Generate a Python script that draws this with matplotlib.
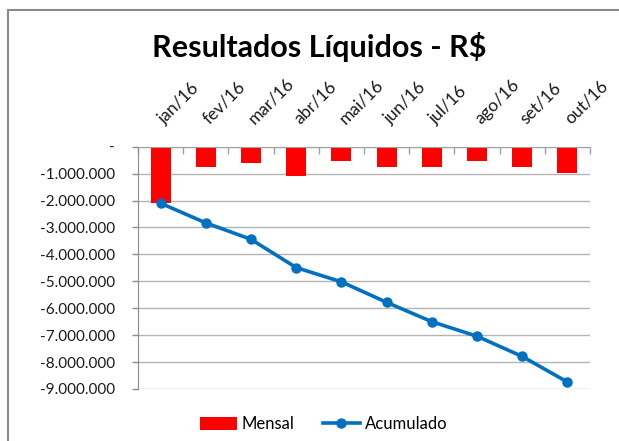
"""Resultados Líquidos - R$: monthly result (bars) and running total (line), Excel style."""

import matplotlib
matplotlib.use("Agg")
import matplotlib.pyplot as plt  # noqa: E402
from matplotlib.patches import Rectangle  # noqa: E402
from matplotlib.ticker import FuncFormatter, FixedLocator  # noqa: E402
from matplotlib.transforms import ScaledTranslation  # noqa: E402
import numpy as np  # noqa: E402

meses = ["jan/16", "fev/16", "mar/16", "abr/16", "mai/16",
         "jun/16", "jul/16", "ago/16", "set/16", "out/16"]
mensal = [-2100000, -760000, -610000, -1080000, -540000,
          -760000, -740000, -540000, -750000, -980000]
acumulado = [-2100000, -2830000, -3440000, -4490000, -5020000,
             -5780000, -6500000, -7040000, -7790000, -8740000]

plt.rcParams["font.family"] = ["Lato", "DejaVu Sans"]

fig = plt.figure(figsize=(6.19, 4.41), dpi=100)
ax = fig.add_axes([138 / 619, 52 / 441, 452 / 619, 242.3 / 441])

x = np.arange(len(meses))
bars = ax.bar(x, mensal, width=0.44, color="#FF0000", label="Mensal", zorder=2)
line, = ax.plot(x, acumulado, color="#0070C0", lw=2.6, marker="o", ms=6.5,
                label="Acumulado", zorder=3)

ax.set_xlim(-0.5, len(meses) - 0.5)
ax.set_ylim(-9000000, 0)

# y axis: "-" for zero, dots as thousands separator
ax.yaxis.set_major_locator(FixedLocator(np.arange(-9000000, 1, 1000000)))
ax.yaxis.set_major_formatter(FuncFormatter(
    lambda v, p: "-" if v == 0 else f"{int(v):,}".replace(",", ".")))
ax.tick_params(axis="y", length=4.5, width=1, color="#8c8c8c", pad=12,
               labelsize=11, labelcolor="#1a1a1a")
ax.grid(axis="y", color="#b4b4b4", lw=1, zorder=0)

# x axis on top, labels rotated, ticks between categories pointing down
ax.xaxis.tick_top()
ax.set_xticks(x)
ax.set_xticklabels(meses, rotation=45, ha="left", va="bottom",
                   rotation_mode="anchor", fontsize=12.5, color="#1a1a1a")
ax.tick_params(axis="x", which="major", length=0, pad=14)
shift = ScaledTranslation(6 / 100, 0, fig.dpi_scale_trans)
for lab in ax.get_xticklabels():
    lab.set_transform(lab.get_transform() + shift)
ax.set_xticks(np.arange(-0.5, len(meses)), minor=True)
ax.tick_params(axis="x", which="minor", top=True, direction="in",
               length=5, width=1, color="#a0a0a0")

for side in ["right", "bottom"]:
    ax.spines[side].set_visible(False)
ax.spines["left"].set_color("#8c8c8c")
ax.spines["top"].set_color("#a0a0a0")

fig.text(319 / 619, 1 - 47 / 441, "Resultados Líquidos - R$", ha="center", va="center",
         fontsize=22, fontweight="bold")

fig.legend(handles=[bars, line], loc="center", bbox_to_anchor=(0.523, 17 / 441),
           ncol=2, frameon=False, fontsize=12, handlelength=2.2, handleheight=0.8,
           handletextpad=0.3, columnspacing=1.7, numpoints=1)

# chart frame (extends past the right and bottom edges)
fig.patches.append(Rectangle((8 / 619, -0.05), 1.0, 1 - 10 / 441 + 0.05,
                             transform=fig.transFigure, fill=False,
                             edgecolor="#8a8a8a", lw=1.5))

fig.savefig("out.png", dpi=100)
